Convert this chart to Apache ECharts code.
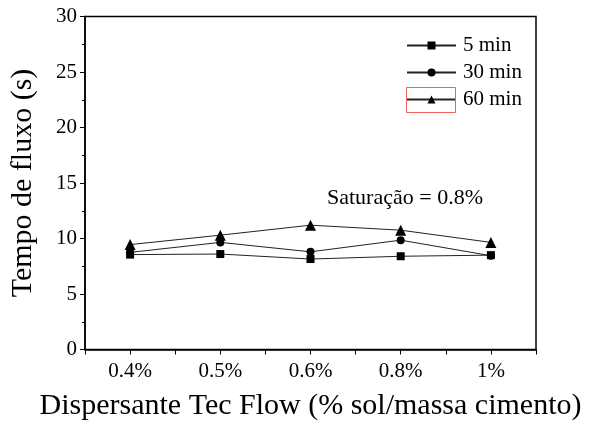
<!DOCTYPE html>
<html><head><meta charset="utf-8">
<script src="https://cdn.jsdelivr.net/npm/echarts@6/dist/echarts.min.js"></script>
<style>html,body{margin:0;padding:0;background:#fff}#c{width:590px;height:421px}</style>
</head><body><div id="c"></div>
<script>
const categories = ['0.4%', '0.5%', '0.6%', '0.8%', '1%'];
const seriesNames = ['5 min', '30 min', '60 min'];
const min5 = [8.55, 8.6, 8.15, 8.4, 8.5];
const min30 = [8.75, 9.65, 8.8, 9.85, 8.45];
const min60 = [9.45, 10.3, 11.2, 10.75, 9.65];
const yTicks = [0, 5, 10, 15, 20, 25, 30];

const FONT = '"Liberation Serif", "Times New Roman", serif';
const chart = echarts.init(document.getElementById('c'));
function pts(arr){ return arr.map((v,i)=>[i+1, v]); }
const common = {type:'line', lineStyle:{color:'#222', width:1}, itemStyle:{color:'#000'}, emphasis:{disabled:true}};
chart.setOption({
  animation:false,
  backgroundColor:'#fff',
  grid:{left:85, right:54, top:16.5, bottom:71.5, show:true, borderColor:'#000', borderWidth:1.5,
        containLabel:false, outerBoundsMode:'none'},
  legend:{
    orient:'vertical', left:406, top:35, padding:0, itemWidth:49, itemHeight:10, itemGap:6,
    textStyle:{fontFamily:FONT, fontSize:21, color:'#000', padding:[0,0,0,2]},
    data:seriesNames
  },
  xAxis:{
    type:'value', min:0.5, max:5.5, interval:0.5,
    name:'Dispersante Tec Flow (% sol/massa cimento)', nameLocation:'middle', nameGap:42,
    nameTextStyle:{fontFamily:FONT, fontSize:30, color:'#000'},
    axisLine:{lineStyle:{color:'#000', width:1.5}},
    axisTick:{show:true, length:5, lineStyle:{color:'#000', width:1}},
    splitLine:{show:false},
    axisLabel:{fontFamily:FONT, fontSize:21, color:'#000', margin:11, showMinLabel:true, showMaxLabel:true,
      formatter:function(v){ return Number.isInteger(v) ? (categories[v-1]||'') : ''; }}
  },
  yAxis:{
    type:'value', min:yTicks[0], max:yTicks[yTicks.length-1], interval:5,
    name:'Tempo de fluxo (s)', nameLocation:'middle', nameGap:47,
    nameTextStyle:{fontFamily:FONT, fontSize:30, color:'#000'},
    axisLine:{show:true, lineStyle:{color:'#000', width:1.5}},
    axisTick:{show:true, length:5, lineStyle:{color:'#000', width:1}},
    minorTick:{show:true, splitNumber:2, length:3, lineStyle:{color:'#000', width:1}},
    splitLine:{show:false},
    axisLabel:{fontFamily:FONT, fontSize:21, color:'#000', margin:8}
  },
  graphic:[
    {type:'text', left:327, top:187, style:{text:'Saturação = 0.8%', font:'22px '+FONT, fill:'#000'}},
    {type:'rect', shape:{x:406.5, y:87.5, width:49, height:25}, style:{fill:'none', stroke:'#f06060', lineWidth:1}, z:10}
  ],
  series:[
    Object.assign({name:seriesNames[0], data:pts(min5), symbol:'rect', symbolSize:8}, common),
    Object.assign({name:seriesNames[1], data:pts(min30), symbol:'circle', symbolSize:8}, common),
    Object.assign({name:seriesNames[2], data:pts(min60), symbol:'triangle', symbolSize:11}, common)
  ]
});
</script></body></html>
